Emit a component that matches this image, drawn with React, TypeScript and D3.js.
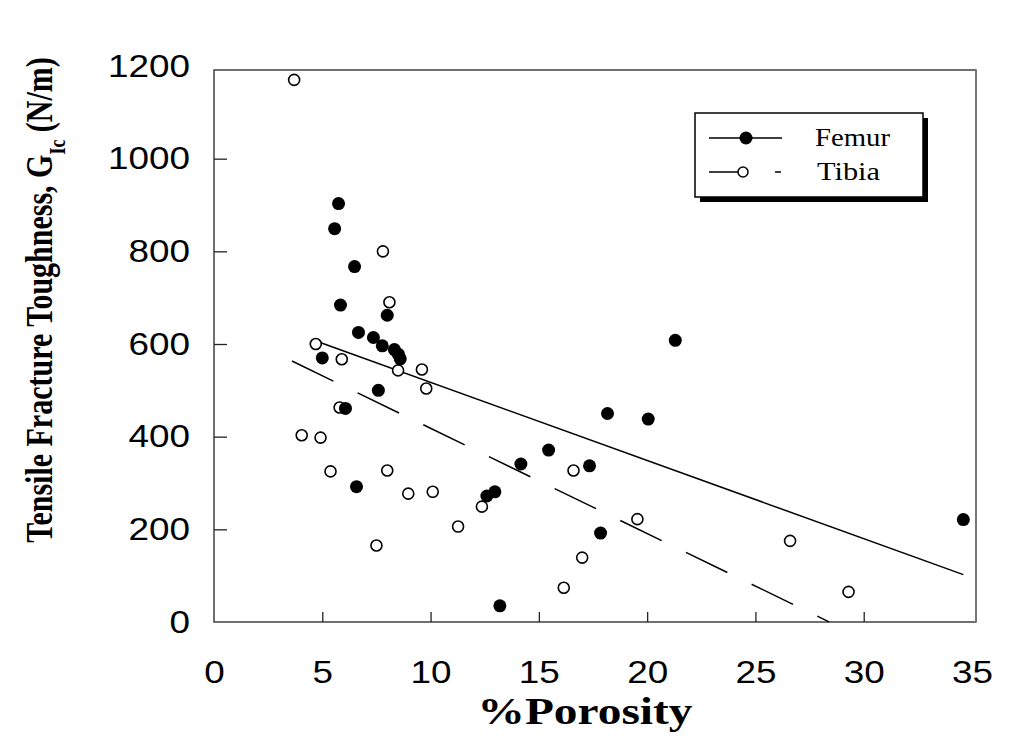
import React, { useEffect, useRef } from "react";
import * as d3 from "d3";

// femur (filled) and tibia (open) samples
const femurPorosity = [5.75, 5.57, 6.49, 5.84, 8.0, 6.67, 7.36, 7.77, 8.33, 8.51, 8.6, 5.0, 7.59, 6.07, 6.58, 21.3, 18.17, 20.05, 15.45, 14.17, 17.34, 12.97, 12.6, 17.85, 13.2, 34.6];
const femurToughness = [903, 849, 767, 684, 662, 625, 614, 596, 588, 578, 568, 570, 500, 461, 292, 608, 450, 438, 371, 341, 337, 281, 272, 192, 35, 221];
const tibiaPorosity = [3.7, 7.8, 8.1, 4.7, 5.9, 8.5, 9.6, 9.8, 5.8, 4.05, 4.92, 5.38, 8.0, 8.97, 10.1, 11.27, 12.37, 16.6, 19.55, 17.0, 16.15, 26.6, 29.3, 7.5];
const tibiaToughness = [1170, 800, 690, 600, 567, 543, 545, 504, 463, 403, 398, 325, 327, 277, 281, 206, 249, 327, 222, 139, 74, 175, 65, 165];

// linear fits as drawn in the figure
const femurFit = { slope: -16.87, intercept: 686, from: 4.9, to: 34.6 };
const tibiaFit = { slope: -22.7, intercept: 645, from: 3.6, to: 28.4 };

const xTicks = [0, 5, 10, 15, 20, 25, 30, 35];
const yTicks = [0, 200, 400, 600, 800, 1000, 1200];

const W = 1023;
const H = 741;
const left = 214, right = 976, top = 70, bottom = 622;

export default function App() {
  const xAxisRef = useRef<SVGGElement>(null);
  const yAxisRef = useRef<SVGGElement>(null);

  const x = d3.scaleLinear().domain([0, 35]).range([left, right - 4]);
  const y = d3.scaleLinear().domain([0, 1200]).range([bottom, 66]);

  useEffect(() => {
    const gx = d3.select(xAxisRef.current);
    gx.call(
      d3.axisBottom(x).tickValues(xTicks).tickFormat(d3.format("d")).tickSizeInner(-10).tickSizeOuter(0).tickPadding(38)
    );
    gx.select(".domain").remove();
    gx.selectAll(".tick line").attr("stroke", "#222").attr("stroke-width", 1.3)
      .attr("display", (d: any) => (d === 0 || d === 35 ? "none" : null));
    gx.selectAll(".tick text")
      .attr("font-family", "'Liberation Sans', Arial, sans-serif")
      .attr("font-size", 32)
      .attr("fill", "#000")
      .attr("textLength", (d: any) => String(d).length * 20.5)
      .attr("lengthAdjust", "spacingAndGlyphs");

    const gy = d3.select(yAxisRef.current);
    gy.call(
      d3.axisLeft(y).tickValues(yTicks).tickFormat(d3.format("d")).tickSizeInner(-13).tickSizeOuter(0).tickPadding(24)
    );
    gy.select(".domain").remove();
    gy.selectAll(".tick line").attr("stroke", "#222").attr("stroke-width", 1.3)
      .attr("display", (d: any) => (d === 0 || d === 1200 ? "none" : null));
    gy.selectAll(".tick text")
      .attr("font-family", "'Liberation Sans', Arial, sans-serif")
      .attr("font-size", 32)
      .attr("fill", "#000")
      .attr("textLength", (d: any) => String(d).length * 20.5)
      .attr("lengthAdjust", "spacingAndGlyphs");
  }, []);

  const fitLine = (f: typeof femurFit) =>
    d3.line<number>()
      .x((v) => x(v))
      .y((v) => y(f.intercept + f.slope * v))([f.from, f.to]) as string;

  const serif = "'Liberation Serif', 'Times New Roman', serif";

  return (
    <svg width={W} height={H} style={{ position: "absolute", left: 0, top: 0, background: "#fff" }}>
      <rect x={0} y={0} width={W} height={H} fill="#fff" />
      {/* plot frame */}
      <rect x={left} y={top} width={right - left} height={bottom - top} fill="none" stroke="#333" strokeWidth={1.4} />
      <line x1={right} x2={right} y1={top} y2={bottom} stroke="#777" strokeWidth={2} />

      <g ref={xAxisRef} transform={`translate(0,${bottom})`} />
      <g ref={yAxisRef} transform={`translate(${left},0)`} />

      {/* fit lines */}
      <path d={fitLine(femurFit)} fill="none" stroke="#000" strokeWidth={1.5} />
      <path d={fitLine(tibiaFit)} fill="none" stroke="#000" strokeWidth={1.5} strokeDasharray="46 27" />

      {/* points */}
      {tibiaPorosity.map((p, i) => (
        <circle key={"t" + i} cx={x(p)} cy={y(tibiaToughness[i])} r={5.5} fill="#fff" stroke="#000" strokeWidth={1.6} />
      ))}
      {femurPorosity.map((p, i) => (
        <circle key={"f" + i} cx={x(p)} cy={y(femurToughness[i])} r={6.5} fill="#000" />
      ))}

      {/* legend */}
      <rect x={700} y={118} width={228} height={84} fill="#000" />
      <rect x={695} y={113} width={228} height={84} fill="#fff" stroke="#000" strokeWidth={1.5} />
      <line x1={709} x2={782} y1={138} y2={138} stroke="#000" strokeWidth={1.3} />
      <circle cx={746} cy={138} r={6.5} fill="#000" />
      <text x={815} y={146} fontFamily={serif} fontSize={26} textLength={75} lengthAdjust="spacingAndGlyphs">Femur</text>
      <line x1={709} x2={782} y1={172} y2={172} stroke="#000" strokeWidth={1.3} strokeDasharray="32 34 6 100" />
      <circle cx={743} cy={172} r={5} fill="#fff" stroke="#000" strokeWidth={1.5} />
      <text x={817} y={180} fontFamily={serif} fontSize={26} textLength={63} lengthAdjust="spacingAndGlyphs">Tibia</text>

      {/* axis titles */}
      <text x={585} y={724} textAnchor="middle" fontFamily={serif} fontWeight="bold" fontSize={38} textLength={215} lengthAdjust="spacingAndGlyphs">%Porosity</text>
      <g transform="translate(52,300) rotate(-90) scale(1,1.25)">
        <text x={0} y={0} textAnchor="middle" fontFamily={serif} fontWeight="bold" fontSize={30}>
          Tensile Fracture Toughness, G
          <tspan fontSize={18} dy={10}>Ic</tspan>
          <tspan dy={-10}> (N/m)</tspan>
        </text>
      </g>
    </svg>
  );
}
